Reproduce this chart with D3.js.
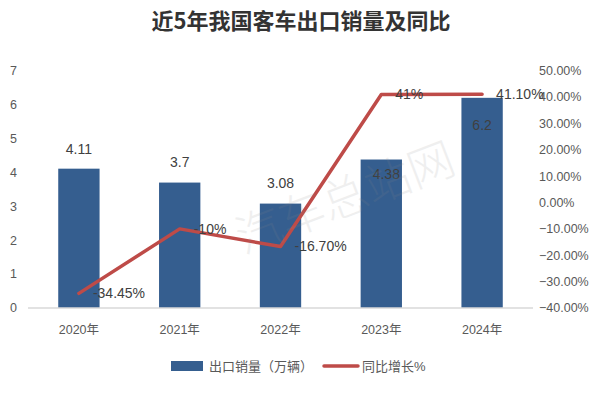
<!DOCTYPE html>
<html lang="zh">
<head>
    <meta charset="UTF-8">
    <title>近5年我国客车出口销量及同比</title>
    <script src="https://cdn.jsdelivr.net/npm/d3@7/dist/d3.min.js"></script>
    <style>
        body { margin: 0; background: #fff; }
        svg { display: block; font-family: "Liberation Sans", "Noto Sans CJK SC", sans-serif; }
    </style>
</head>
<body>
<script>
    // chart data
    var years = ["2020年", "2021年", "2022年", "2023年", "2024年"];
    var exportVolume = [4.11, 3.7, 3.08, 4.38, 6.2];          // 万辆
    var growthRate = [-0.3445, -0.10, -0.167, 0.41, 0.411];    // 同比
    var volumeLabels = ["4.11", "3.7", "3.08", "4.38", "6.2"];
    var growthLabels = ["-34.45%", "-10%", "-16.70%", "41%", "41.10%"];
    var leftTicks = [0, 1, 2, 3, 4, 5, 6, 7];
    var rightTicks = [-0.4, -0.3, -0.2, -0.1, 0, 0.1, 0.2, 0.3, 0.4, 0.5];

    var width = 600, height = 393;
    var barColor = "#355E8F", lineColor = "#BE4B48", tickColor = "#595959";

    var svg = d3.select("body").append("svg")
        .attr("width", width)
        .attr("height", height);

    var x = d3.scaleBand().domain(years).range([28, 533]).paddingInner(0.59).paddingOuter(0.3);
    var yL = d3.scaleLinear().domain([0, 7]).range([308, 70.7]);
    var yR = d3.scaleLinear().domain([-0.4, 0.5]).range([308, 70.7]);

    // title
    svg.append("text")
        .attr("x", 301).attr("y", 29)
        .attr("text-anchor", "middle")
        .style("font-family", "'Noto Sans CJK SC', sans-serif")
        .style("font-weight", "bold")
        .style("font-size", "22px")
        .style("fill", "#333")
        .text("近5年我国客车出口销量及同比");

    // left axis labels
    svg.append("g").selectAll("text")
        .data(leftTicks).enter().append("text")
        .attr("x", 17).attr("y", function (d) { return yL(d); })
        .attr("dy", "0.35em")
        .attr("text-anchor", "end")
        .style("font-size", "12.5px")
        .style("fill", tickColor)
        .text(function (d) { return d; });

    // right axis labels
    svg.append("g").selectAll("text")
        .data(rightTicks).enter().append("text")
        .attr("x", 539).attr("y", function (d) { return yR(d); })
        .attr("dy", "0.35em")
        .style("font-size", "12.5px")
        .style("fill", tickColor)
        .text(function (d) { return d3.format(".2f")(d * 100) + "%"; });

    // bars
    svg.append("g").selectAll("rect")
        .data(exportVolume).enter().append("rect")
        .attr("x", function (d, i) { return x(years[i]); })
        .attr("y", function (d) { return yL(d); })
        .attr("width", x.bandwidth())
        .attr("height", function (d) { return yL(0) - yL(d); })
        .style("fill", barColor);

    // baseline
    svg.append("line")
        .attr("x1", 28).attr("x2", 533)
        .attr("y1", yL(0)).attr("y2", yL(0))
        .style("stroke", "#d9d9d9")
        .style("stroke-width", 1.5);

    // x labels
    svg.append("g").selectAll("text")
        .data(years).enter().append("text")
        .attr("x", function (d) { return x(d) + x.bandwidth() / 2; })
        .attr("y", 334)
        .attr("text-anchor", "middle")
        .style("font-size", "12.5px")
        .style("fill", tickColor)
        .text(function (d) { return d; });

    // bar value labels (last two were pushed inside the bars in the original)
    var barLabelShift = [-20, -20, -20, 15, 27];
    svg.append("g").selectAll("text")
        .data(exportVolume).enter().append("text")
        .attr("x", function (d, i) { return x(years[i]) + x.bandwidth() / 2 + (i == 3 ? 5 : 0); })
        .attr("y", function (d, i) { return yL(d) + barLabelShift[i]; })
        .attr("dy", "0.35em")
        .attr("text-anchor", "middle")
        .style("font-size", "14px")
        .style("fill", "#404040")
        .text(function (d, i) { return volumeLabels[i]; });

    // growth line
    var line = d3.line()
        .x(function (d, i) { return x(years[i]) + x.bandwidth() / 2; })
        .y(function (d) { return yR(d); });
    svg.append("path")
        .datum(growthRate)
        .attr("d", line)
        .style("fill", "none")
        .style("stroke", lineColor)
        .style("stroke-width", 3.5)
        .style("stroke-linejoin", "round")
        .style("stroke-linecap", "round");

    svg.append("g").selectAll("text")
        .data(growthRate).enter().append("text")
        .attr("x", function (d, i) { return x(years[i]) + x.bandwidth() / 2 + 14; })
        .attr("y", function (d) { return yR(d); })
        .attr("dy", "0.35em")
        .style("font-size", "14px")
        .style("fill", "#404040")
        .text(function (d, i) { return growthLabels[i]; });

    // watermark
    svg.append("text")
        .attr("transform", "translate(345,198) rotate(-21)")
        .attr("text-anchor", "middle")
        .attr("dy", "0.35em")
        .style("font-family", "'Noto Sans CJK SC', sans-serif")
        .style("font-size", "46px")
        .style("font-weight", "300")
        .style("fill", "#888")
        .style("opacity", 0.13)
        .text("汽车总站网");

    // legend
    var legend = svg.append("g").attr("transform", "translate(0,366)");
    legend.append("rect")
        .attr("x", 171).attr("y", -5).attr("width", 32).attr("height", 10)
        .style("fill", barColor);
    legend.append("text")
        .attr("x", 209).attr("dy", "0.35em")
        .style("font-size", "13px").style("fill", tickColor)
        .text("出口销量（万辆）");
    legend.append("line")
        .attr("x1", 324).attr("x2", 358)
        .style("stroke", lineColor).style("stroke-width", 3.5)
        .style("stroke-linecap", "round");
    legend.append("text")
        .attr("x", 362).attr("dy", "0.35em")
        .style("font-size", "13px").style("fill", tickColor)
        .text("同比增长%");
</script>
</body>
</html>
